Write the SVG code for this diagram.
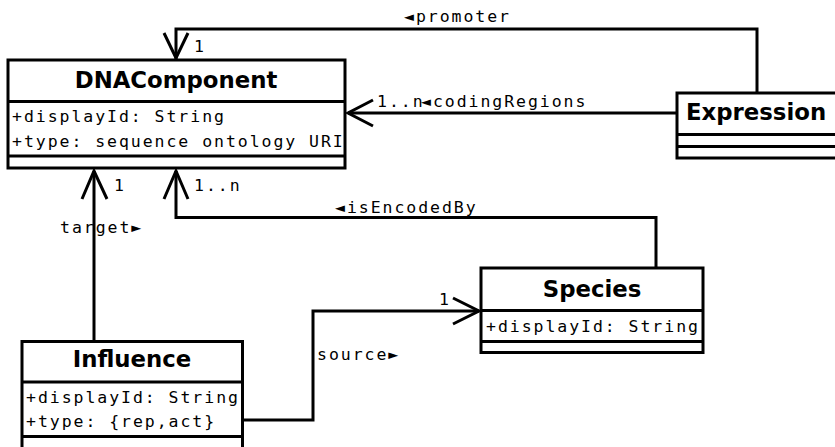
<svg xmlns="http://www.w3.org/2000/svg" width="835" height="447" viewBox="0 0 835 447">
<style>
.box{fill:#fff;stroke:#000;stroke-width:3}
.div{stroke:#000;stroke-width:3}
.title{font-family:"DejaVu Sans",sans-serif;font-weight:bold;font-size:22.8px;fill:#000}
.mono{font-family:"DejaVu Sans Mono",monospace;font-size:16.5px;letter-spacing:1.95px;fill:#000}
.conn{fill:none;stroke:#000;stroke-width:3}
</style>
<rect width="835" height="447" fill="#fff"/>
<g id="connectors">
<polyline class="conn" points="757,93 757,29 176,29 176,59"/>
<polyline class="conn" points="164,33 176,58 188,33"/>
<line class="conn" x1="676" y1="113" x2="348" y2="113"/>
<polyline class="conn" points="373,100 348,113 373,126"/>
<line class="conn" x1="94" y1="341" x2="94" y2="171"/>
<polyline class="conn" points="82,199 94,171 107,199"/>
<polyline class="conn" points="656,268 656,217.5 176,217.5 176,171"/>
<polyline class="conn" points="164,199 176,171 188,199"/>
<polyline class="conn" points="243,420 313,420 313,311 479,311"/>
<polyline class="conn" points="453,298 479,311 453,324"/>
<text class="mono" x="404" y="22">◄promoter</text>
<text class="mono" x="194" y="52">1</text>
<text class="mono" x="377" y="107">1..n</text>
<text class="mono" x="421" y="107">◄codingRegions</text>
<text class="mono" x="114" y="191">1</text>
<text class="mono" x="194" y="191">1..n</text>
<text class="mono" x="335" y="213">◄isEncodedBy</text>
<text class="mono" x="60" y="233">target►</text>
<text class="mono" x="317" y="360">source►</text>
<text class="mono" x="439" y="305">1</text>
</g>
<g id="DNAComponent">
<rect class="box" x="8" y="60" width="337" height="108"/>
<line class="div" x1="8" y1="101.5" x2="345" y2="101.5"/>
<line class="div" x1="8" y1="156" x2="345" y2="156"/>
<text class="title" x="176" y="88" text-anchor="middle">DNAComponent</text>
<text class="mono" x="12" y="122">+displayId: String</text>
<text class="mono" x="12" y="147">+type: sequence ontology URI</text>
</g>
<g id="Expression">
<rect class="box" x="677" y="93" width="170" height="65"/>
<line class="div" x1="677" y1="134.5" x2="847" y2="134.5"/>
<line class="div" x1="677" y1="146.5" x2="847" y2="146.5"/>
<text class="title" x="686" y="120">Expression</text>
</g>
<g id="Species">
<rect class="box" x="481" y="268" width="222" height="84.5"/>
<line class="div" x1="481" y1="310.5" x2="703" y2="310.5"/>
<line class="div" x1="481" y1="341.5" x2="703" y2="341.5"/>
<text class="title" x="592" y="297" text-anchor="middle">Species</text>
<text class="mono" x="486" y="332">+displayId: String</text>
</g>
<g id="Influence">
<rect class="box" x="22" y="341.5" width="220.5" height="120"/>
<line class="div" x1="22" y1="382" x2="242.5" y2="382"/>
<line class="div" x1="22" y1="436.5" x2="242.5" y2="436.5"/>
<text class="title" x="132" y="367" text-anchor="middle">Influence</text>
<text class="mono" x="26" y="403">+displayId: String</text>
<text class="mono" x="26" y="427">+type: {rep,act}</text>
</g>
</svg>
